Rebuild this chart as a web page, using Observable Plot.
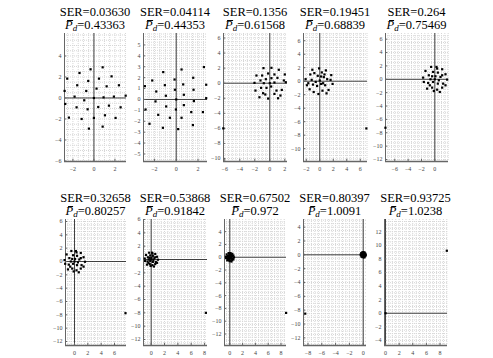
<!DOCTYPE html>
<html><head><meta charset="utf-8">
<script src="https://cdn.jsdelivr.net/npm/d3@7"></script>
<script src="https://cdn.jsdelivr.net/npm/@observablehq/plot@0.6"></script>
<style>
body{margin:0;background:#fff;}
#wrap{position:relative;width:493px;height:358px;overflow:hidden;}
.t{position:absolute;font-family:"Liberation Serif",serif;font-size:12.5px;line-height:13px;height:13px;white-space:nowrap;transform:translateX(-50%);color:#000;}
.pb{font-style:italic;position:relative;display:inline-block;}
.pb::before{content:"";position:absolute;left:2px;right:0px;top:1px;border-top:1px solid #000;}
.t sub{font-size:9px;font-style:italic;vertical-align:-2px;line-height:0;}
</style></head><body><div id="wrap"></div>
<script>
const serLabels = ["0.03630","0.04114","0.1356","0.19451","0.264","0.32658","0.53868","0.67502","0.80397","0.93725"];
const pdLabels  = ["0.43363","0.44353","0.61568","0.68839","0.75469","0.80257","0.91842","0.972","1.0091","1.0238"];

const x1 = [-2.54,-1.37,-0.32,0.83,1.68,-2.79,-1.59,-0.54,0.48,1.21,2.38,-0.73,0.25,-1.84,0,0.92,1.9,3.02,-2.73,-0.92,-1.65,-0.6,0.41,1.43,2.54,-2.38,-1.17,0,1.05,2.06,-0.48,0.83];
const y1 = [1.84,2.38,2.73,2.92,2.06,0.67,1.21,1.62,1.84,1.11,1.21,0.67,0.89,0.13,0,0.06,0.13,0.22,-0.57,-0.22,-0.89,-1.08,-0.86,-0.73,-0.89,-1.87,-2.0,-1.9,-1.65,-1.9,-2.92,-2.73];
const x2 = [-2.2,-1.19,0.49,2.54,-0.15,1.56,-2.87,-1.83,-1.04,0.64,2.75,-0.12,-0.95,0.7,1.59,-1.9,0,1.62,2.75,-2.81,-0.92,-0.03,0.7,-1.65,-0.58,0.49,1.38,2.45,-2.45,-1.22,0.18,1.53];
const y2 = [1.74,2.51,2.75,2.97,1.83,1.99,1.22,0.73,1.31,1.38,1.35,0.89,0.34,0.43,0.89,-0.18,0,-0.15,0.12,-0.92,-0.64,-0.92,-0.52,-1.41,-1.68,-1.68,-1.16,-1.16,-2.23,-2.6,-2.72,-2.35];
const x3 = [-0.84,0.22,1.2,-1.78,-1.02,-0.22,0.62,2.0,-1.24,-0.53,0.22,1.02,-2.04,-0.8,0,0.62,2.13,-1.91,-1.16,-0.44,0.18,0.89,1.6,-1.38,-0.22,0.62,1.42,-0.89,1.87,1.1,-0.6,-6.2];
const y3 = [2.0,2.04,1.78,1.02,1.02,1.29,1.16,1.16,0.36,0.53,0.67,0.71,0.04,0,0,0.09,0.13,-0.98,-0.62,-0.62,-0.44,-0.98,-0.89,-1.87,-2.04,-1.42,-1.64,-1.33,0.36,-2.0,-1.5,-6.0];
const x4 = [-1.1,-0.1,0.9,1.7,-2.1,-1.9,-1.4,-0.8,-0.3,0.3,0.6,1.1,1.6,-1.2,0,0.5,-1.0,-0.4,0.2,0.8,1.3,-1.5,-0.9,-0.2,0.4,1.0,-0.6,0.2,1.9,-1.7,0.7,6.9];
const y4 = [1.7,1.9,1.6,0.9,0.3,-0.6,1.0,1.2,0.8,1.3,0.6,0.3,0.2,0.2,0.1,-0.3,-0.5,-0.7,-0.4,-0.6,-1.3,-1.2,-1.6,-1.9,-1.4,-1.8,-0.1,0.7,-0.4,-0.3,1.0,-7.0];
const x5 = [-0.55,0.25,1.1,-1.4,-0.25,0.45,1.6,-0.9,0.1,0.85,-1.75,-0.65,0,0.6,1.85,-1.65,-1.0,-0.25,0.45,1.25,-1.15,-0.4,0.35,1.1,-0.15,0.75,1.6,-0.75,1.1,-0.4,0.35,-7.4];
const y5 = [1.85,1.85,1.5,1.25,1.1,1.0,0.75,0.6,0.45,0.35,0.25,0,0,-0.15,-0.05,-0.4,-0.55,-0.4,-0.65,-0.65,-1.4,-1.25,-1.55,-1.25,-1.75,-1.9,-0.9,-0.9,0.6,0.45,1.6,-7.25];
const x6 = [-0.47,0.21,0.94,-1.19,-0.21,0.38,1.36,-0.77,0.09,0.72,-1.49,-0.55,0,0.51,1.57,-1.4,-0.85,-0.21,0.38,1.06,-0.98,-0.34,0.3,0.94,-0.13,0.64,1.36,-0.64,0.94,-0.34,0.3,7.65];
const y6 = [1.57,1.57,1.28,1.06,0.94,0.85,0.64,0.51,0.38,0.3,0.21,0,0,-0.13,-0.04,-0.34,-0.47,-0.34,-0.55,-0.55,-1.19,-1.06,-1.32,-1.06,-1.49,-1.62,-0.77,-0.77,0.51,0.38,1.36,-7.75];
const x7 = [-0.3,0.14,0.61,-0.77,-0.14,0.25,0.88,-0.5,0.06,0.47,-0.96,-0.36,0,0.33,1.02,-0.91,-0.55,-0.14,0.25,0.69,-0.63,-0.22,0.19,0.61,-0.08,0.41,0.88,-0.41,0.61,-0.22,0.19,8.2];
const y7 = [1.02,1.02,0.83,0.69,0.61,0.55,0.41,0.33,0.25,0.19,0.14,0,0,-0.08,-0.03,-0.22,-0.3,-0.22,-0.36,-0.36,-0.77,-0.69,-0.85,-0.69,-0.96,-1.05,-0.5,-0.5,0.33,0.25,0.88,-8.0];
const x8 = [-0.19,0.09,0.39,-0.49,-0.09,0.16,0.56,-0.32,0.04,0.3,-0.61,-0.23,0,0.21,0.65,-0.58,-0.35,-0.09,0.16,0.44,-0.4,-0.14,0.12,0.39,-0.05,0.26,0.56,-0.26,0.39,-0.14,0.12,8.8];
const y8 = [0.65,0.65,0.53,0.44,0.39,0.35,0.26,0.21,0.16,0.12,0.09,0,0,-0.05,-0.02,-0.14,-0.19,-0.14,-0.23,-0.23,-0.49,-0.44,-0.54,-0.44,-0.61,-0.67,-0.32,-0.32,0.21,0.16,0.56,-8.7];
const x9 = [-0.11,0.05,0.22,-0.28,-0.05,0.09,0.32,-0.18,0.02,0.17,-0.35,-0.13,0,0.12,0.37,-0.33,-0.2,-0.05,0.09,0.25,-0.23,-0.08,0.07,0.22,-0.03,0.15,0.32,-0.15,0.22,-0.08,0.07,-8.4];
const y9 = [0.37,0.37,0.3,0.25,0.22,0.2,0.15,0.12,0.09,0.07,0.05,0,0,-0.03,-0.01,-0.08,-0.11,-0.08,-0.13,-0.13,-0.28,-0.25,-0.31,-0.25,-0.35,-0.38,-0.18,-0.18,0.12,0.09,0.32,-8.5];
const x10 = [0,9.0];
const y10 = [0,9.2];

const xTicks = [[-2,0,2],[-2,0,2],[-6,-4,-2,0,2],[-2,0,2,4,6],[-6,-4,-2,0],[0,2,4,6],[0,2,4,6,8],[0,2,4,6,8],[-8,-6,-4,-2,0],[0,2,4,6,8]];
const yTicks = [[-6,-4,-2,0,2,4],[-5,-4,-3,-2,-1,0,1,2,3,4,5],[-10,-8,-6,-4,-2,0,2,4,6],[-10,-8,-6,-4,-2,0,2,4,6],[-12,-10,-8,-6,-4,-2,0,2,4,6],[-12,-10,-8,-6,-4,-2,0,2,4,6],[-12,-10,-8,-6,-4,-2,0,2,4,6],[-12,-10,-8,-6,-4,-2,0,2,4],[-12,-10,-8,-6,-4,-2,0,2,4],[-4,-2,0,2,4,6,8,10,12]];
const xDomains = [[-2.8,3.1],[-3.0,2.87],[-6.17,2.36],[-2.41,7.07],[-7.39,2.05],[-1.35,7.8],[-1.15,8.44],[-0.83,8.86],[-8.65,0.48],[-0.15,9.1]];
const yDomains = [[-6.05,6.14],[-5.69,6.05],[-10.4,6.6],[-11.9,7.07],[-12.3,6.85],[-12.6,6.3],[-12.9,6.0],[-13.8,5.9],[-13.1,5.1],[-4.75,13.8]];

const xs = [x1,x2,x3,x4,x5,x6,x7,x8,x9,x10];
const ys = [y1,y2,y3,y4,y5,y6,y7,y8,y9,y10];

// layout: frame boxes [left, top, right, bottom] in page pixels
const boxes = [[64,33,126,161],[143,33,207,161],[223,33,287,161],[303,33,367,161],[385,33,448,161],
               [65,219,126,345],[143,219,207,345],[224,219,286,345],[303,219,366,345],[384,219,447,345]];

const wrap = document.getElementById("wrap");
for (let i = 0; i < 10; i++) {
  const [L,T,R,B] = boxes[i];
  const mL = 16, mR = 6, mT = 4, mB = 14;
  const xd = xDomains[i], yd = yDomains[i];
  const data = xs[i].map((x,k)=>({x, y: ys[i][k]}));
  const gx = d3.range(Math.ceil(xd[0]*2)/2, xd[1]+1e-9, 0.5);
  const gy = d3.range(Math.ceil(yd[0]*2)/2, yd[1]+1e-9, i===1?0.25:0.5);
  const tx = (xd[1]-xd[0])*0.035, ty = (yd[1]-yd[0])*0.018;
  const svg = Plot.plot({
    width: R-L+mL+mR, height: B-T+mT+mB,
    marginLeft: mL, marginRight: mR, marginTop: mT, marginBottom: mB,
    x: {domain: xd, axis: null, label: null},
    y: {domain: yd, axis: null, label: null},
    style: {fontFamily: "Liberation Serif, serif", fontSize: "6px", background: "transparent", overflow: "visible"},
    marks: [
      Plot.ruleX(gx, {stroke: "#d6d6d6", strokeDasharray: "1,1"}),
      Plot.ruleY(gy, {stroke: "#d6d6d6", strokeDasharray: "1,1"}),
      Plot.ruleX([0], {stroke: "#404040", strokeWidth: 1}),
      Plot.ruleY([0], {stroke: "#404040", strokeWidth: 1}),
      Plot.ruleX([xd[0]], {stroke: "#666", strokeWidth: 1}),
      Plot.ruleY([yd[0]], {stroke: "#666", strokeWidth: 1.5}),
      Plot.ruleY(yTicks[i], {x1: xd[0], x2: xd[0] + tx, stroke: "#666"}),
      Plot.ruleX(xTicks[i], {y1: yd[0], y2: yd[0] + ty, stroke: "#666"}),
      Plot.dot(data, {x: "x", y: "y", symbol: "square", r: 1.25, fill: "#000", stroke: "none"}),
      Plot.axisX(xTicks[i], {tickSize: 0, tickPadding: 5, fill: "#444", fontSize: 6, label: null}),
      Plot.axisY(yTicks[i], {tickSize: 0, tickPadding: 3, fill: "#444", fontSize: 6, label: null})
    ]
  });
  svg.style.position = "absolute";
  svg.style.left = (L - mL) + "px";
  svg.style.top = (T - mT) + "px";
  wrap.appendChild(svg);
  const cx = (L + R) / 2;
  const t1 = document.createElement("div");
  t1.className = "t"; t1.style.left = cx + "px"; t1.style.top = (T - 27) + "px";
  t1.textContent = "SER=" + serLabels[i];
  wrap.appendChild(t1);
  const t2 = document.createElement("div");
  t2.className = "t"; t2.style.left = cx + "px"; t2.style.top = (T - 14) + "px";
  t2.innerHTML = '<span class="pb">P</span><sub>d</sub>=' + pdLabels[i];
  wrap.appendChild(t2);
}
</script></body></html>
